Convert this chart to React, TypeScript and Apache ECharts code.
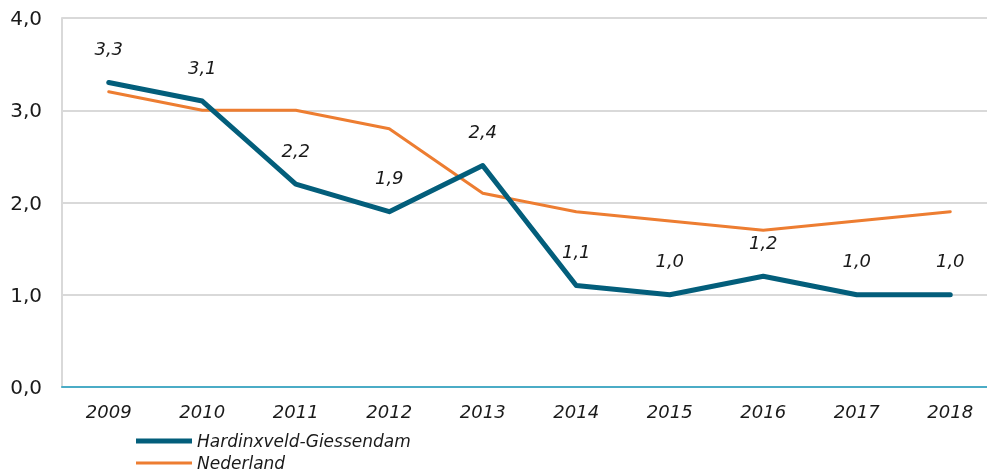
import React, { useEffect, useRef } from "react";
import * as echarts from "echarts";

const years = ["2009", "2010", "2011", "2012", "2013", "2014", "2015", "2016", "2017", "2018"];
const hardinxveld = [3.3, 3.1, 2.2, 1.9, 2.4, 1.1, 1.0, 1.2, 1.0, 1.0];
const nederland = [3.2, 3.0, 3.0, 2.8, 2.1, 1.9, 1.8, 1.7, 1.8, 1.9];
const yTicks = [0, 1, 2, 3, 4];

const FONT = "DejaVu Sans, Verdana, sans-serif";
const fmt = (v: number) => v.toFixed(1).replace(".", ",");

export default function App() {
  const ref = useRef<HTMLDivElement>(null);
  useEffect(() => {
    if (!ref.current) return;
    const chart = echarts.init(ref.current, undefined, { renderer: "svg" });
    chart.setOption({
      animation: false,
      grid: { left: 62, right: 3, top: 18, bottom: 85, containLabel: false },
      xAxis: {
        type: "category",
        data: years,
        boundaryGap: true,
        axisLine: { show: true, lineStyle: { color: "#4bacc6", width: 2 } },
        axisTick: { show: false },
        axisLabel: {
          fontFamily: FONT,
          fontSize: 18,
          fontStyle: "italic",
          color: "#1a1a1a",
          margin: 15,
        },
      },
      yAxis: {
        type: "value",
        min: yTicks[0],
        max: yTicks[yTicks.length - 1],
        interval: 1,
        axisLine: { show: true, lineStyle: { color: "#d9d9d9", width: 2 } },
        axisTick: { show: false },
        splitLine: { show: true, lineStyle: { color: "#d9d9d9", width: 2 } },
        axisLabel: {
          fontFamily: FONT,
          fontSize: 20,
          color: "#1a1a1a",
          margin: 20,
          formatter: (v: number) => fmt(v),
        },
      },
      legend: {
        orient: "vertical",
        left: 131,
        top: 426,
        height: 60,
        itemWidth: 56,
        itemHeight: 10,
        itemGap: 2,
        itemTextGap: 4,
        textStyle: {
          fontFamily: FONT,
          fontSize: 17,
          fontStyle: "italic",
          color: "#1a1a1a",
          lineHeight: 20,
        },
        data: [
          { name: "Hardinxveld-Giessendam", icon: "path://M0,0h56v5h-56z" },
          { name: "Nederland", icon: "path://M0,0h56v3h-56z" },
        ],
      },
      series: [
        {
          name: "Hardinxveld-Giessendam",
          type: "line",
          data: hardinxveld,
          symbol: "circle",
          symbolSize: 0,
          showSymbol: true,
          lineStyle: { color: "#035e7b", width: 5, cap: "round", join: "round" },
          itemStyle: { color: "#035e7b" },
          z: 3,
          label: {
            show: true,
            position: "top",
            distance: 25,
            fontFamily: FONT,
            fontSize: 18,
            fontStyle: "italic",
            color: "#1a1a1a",
            formatter: (p: any) => fmt(p.value),
          },
        },
        {
          name: "Nederland",
          type: "line",
          data: nederland,
          symbol: "circle",
          symbolSize: 0,
          lineStyle: { color: "#ed7d31", width: 3, cap: "round", join: "round" },
          itemStyle: { color: "#ed7d31" },
          z: 2,
        },
      ],
    });
    return () => chart.dispose();
  }, []);
  return (
    <div
      ref={ref}
      style={{ position: "fixed", left: 0, top: 0, width: 1000, height: 472 }}
    />
  );
}
